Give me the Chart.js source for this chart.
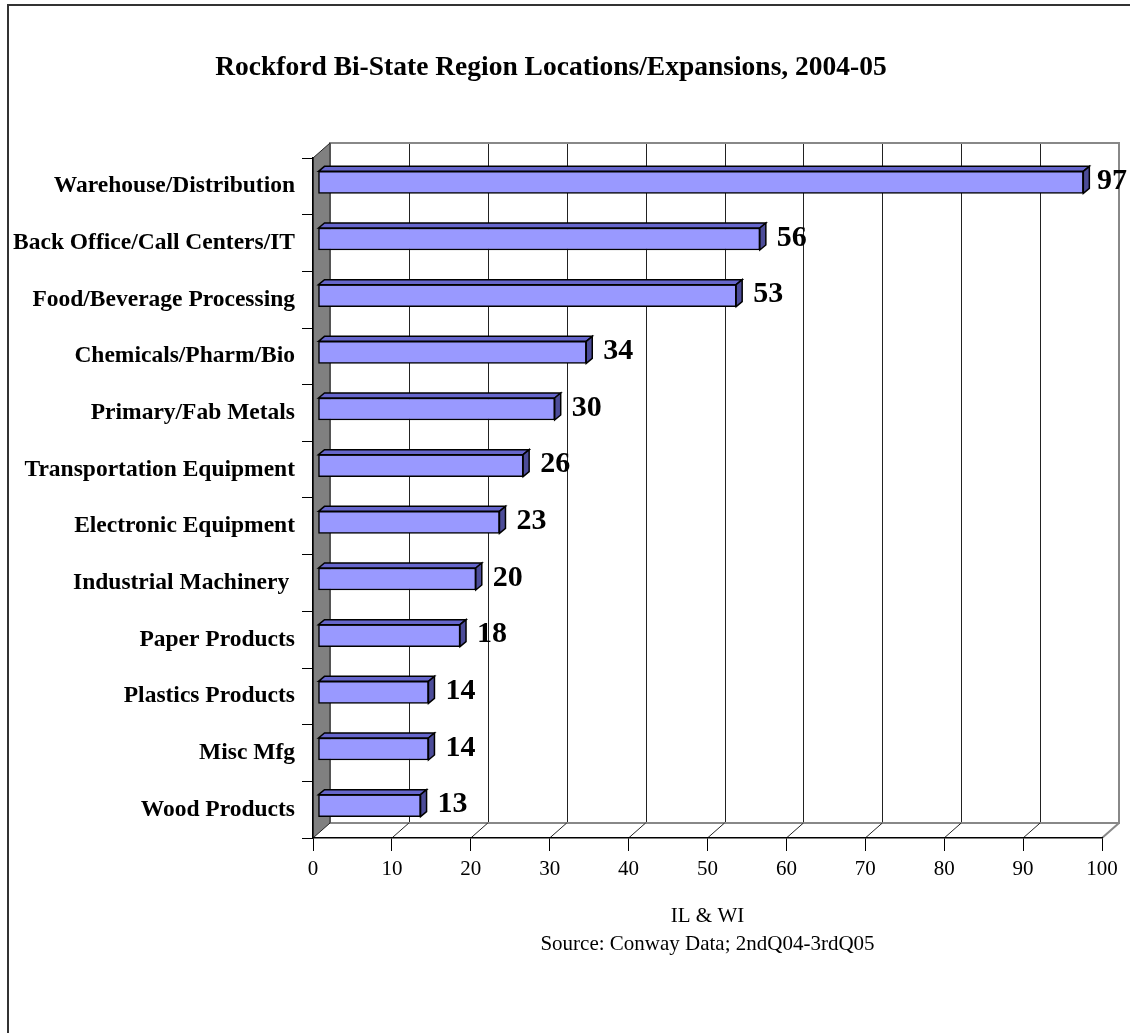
<!DOCTYPE html>
<html>
<head>
<meta charset="utf-8">
<script src="https://cdn.jsdelivr.net/npm/chart.js@4/dist/chart.umd.min.js"></script>
<style>
    html, body { margin: 0; padding: 0; background: #fff; overflow: hidden; }
    #frame { position: absolute; left: 7px; top: 4px; width: 1200px; height: 1100px; border-left: 2px solid #333; border-top: 2px solid #333; }
    #chart { position: absolute; left: 0; top: 0; }
</style>
</head>
<body>
<div id="frame"></div>
<canvas id="chart" width="1130" height="1033"></canvas>
<script>
    const categories = [
        'Warehouse/Distribution',
        'Back Office/Call Centers/IT',
        'Food/Beverage Processing',
        'Chemicals/Pharm/Bio',
        'Primary/Fab Metals',
        'Transportation Equipment',
        'Electronic Equipment',
        'Industrial Machinery ',
        'Paper Products',
        'Plastics Products',
        'Misc Mfg',
        'Wood Products'
    ];
    const counts = [97, 56, 53, 34, 30, 26, 23, 20, 18, 14, 14, 13];
    const xTicks = [0, 10, 20, 30, 40, 50, 60, 70, 80, 90, 100];

    const serif = "'Liberation Serif', 'Times New Roman', serif";
    const wallDX = 17, wallDY = -15;   // back wall offset
    const barDX = 5, barDY = -4;       // bar front face offset
    const depthX = 6, depthY = -5;     // bar depth

    const walls3d = {
        id: 'walls3d',
        beforeDraw(chart) {
            const ctx = chart.ctx;
            const a = chart.chartArea;
            const xs = chart.scales.x;
            ctx.save();
            // back wall
            ctx.fillStyle = '#fff';
            ctx.fillRect(a.left + wallDX, a.top + wallDY, a.right - a.left, a.bottom - a.top);
            ctx.strokeStyle = '#222';
            ctx.lineWidth = 1;
            xTicks.slice(1, -1).forEach(v => {
                const px = Math.round(xs.getPixelForValue(v) + wallDX) + 0.5;
                ctx.beginPath();
                ctx.moveTo(px, a.top + wallDY);
                ctx.lineTo(px, a.bottom + wallDY);
                ctx.stroke();
            });
            ctx.strokeStyle = '#888';
            ctx.lineWidth = 2;
            ctx.strokeRect(a.left + wallDX, a.top + wallDY, a.right - a.left, a.bottom - a.top);
            // floor diagonals
            ctx.lineWidth = 1;
            ctx.strokeStyle = '#222';
            xTicks.slice(1, -1).forEach(v => {
                const px = xs.getPixelForValue(v);
                ctx.beginPath();
                ctx.moveTo(px, a.bottom);
                ctx.lineTo(px + wallDX, a.bottom + wallDY);
                ctx.stroke();
            });
            ctx.strokeStyle = '#888';
            ctx.lineWidth = 2;
            ctx.beginPath();
            ctx.moveTo(a.right, a.bottom);
            ctx.lineTo(a.right + wallDX, a.bottom + wallDY);
            ctx.stroke();
            // left wall
            ctx.fillStyle = '#808080';
            ctx.strokeStyle = '#222';
            ctx.lineWidth = 1;
            ctx.beginPath();
            ctx.moveTo(a.left, a.top);
            ctx.lineTo(a.left + wallDX, a.top + wallDY);
            ctx.lineTo(a.left + wallDX, a.bottom + wallDY);
            ctx.lineTo(a.left, a.bottom);
            ctx.closePath();
            ctx.fill();
            ctx.stroke();
            ctx.restore();
        },
        beforeDatasetsDraw(chart) {
            chart.ctx.save();
            chart.ctx.translate(barDX, barDY);
        },
        afterDatasetsDraw(chart) {
            const ctx = chart.ctx;
            const meta = chart.getDatasetMeta(0);
            ctx.lineWidth = 1.5;
            ctx.strokeStyle = '#000';
            ctx.lineJoin = 'miter';
            meta.data.forEach((bar, i) => {
                const p = bar.getProps(['x', 'y', 'base', 'height'], true);
                const top = p.y - p.height / 2;
                const bottom = p.y + p.height / 2;
                ctx.fillStyle = '#6666cc';
                ctx.beginPath();
                ctx.moveTo(p.base, top);
                ctx.lineTo(p.base + depthX, top + depthY);
                ctx.lineTo(p.x + depthX, top + depthY);
                ctx.lineTo(p.x, top);
                ctx.closePath();
                ctx.fill();
                ctx.stroke();
                ctx.fillStyle = '#4c4c99';
                ctx.beginPath();
                ctx.moveTo(p.x, top);
                ctx.lineTo(p.x + depthX, top + depthY);
                ctx.lineTo(p.x + depthX, bottom + depthY);
                ctx.lineTo(p.x, bottom);
                ctx.closePath();
                ctx.fill();
                ctx.stroke();
                // value label
                const txt = String(counts[i]);
                ctx.fillStyle = '#000';
                ctx.font = 'bold 30px ' + serif;
                ctx.textAlign = 'left';
                ctx.textBaseline = 'middle';
                const w = ctx.measureText(txt).width;
                const lx = Math.min(p.x + 17, chart.width - barDX - 3 - w);
                ctx.fillText(txt, lx, p.y - 1);
            });
            ctx.restore();
        }
    };

    new Chart(document.getElementById('chart'), {
        type: 'bar',
        data: {
            labels: categories,
            datasets: [{
                data: counts,
                backgroundColor: '#9999ff',
                borderColor: '#000',
                borderWidth: 1.5,
                borderSkipped: false,
                barThickness: 22,
                clip: false
            }]
        },
        options: {
            indexAxis: 'y',
            responsive: false,
            animation: false,
            layout: { padding: { left: 0, right: 28, top: 0, bottom: 0 } },
            plugins: {
                legend: { display: false },
                tooltip: { enabled: false },
                title: {
                    display: true,
                    text: 'Rockford Bi-State Region Locations/Expansions, 2004-05',
                    color: '#000',
                    font: { family: serif, size: 27.5, weight: 'bold', lineHeight: 1.2 },
                    padding: { top: 51, bottom: 74 }
                }
            },
            scales: {
                x: {
                    min: 0,
                    max: 100,
                    afterFit(scale) { scale.height = 195; },
                    afterBuildTicks(scale) { scale.ticks = xTicks.map(v => ({ value: v })); },
                    grid: { drawOnChartArea: false, drawTicks: true, tickLength: 13, color: '#000', lineWidth: 1 },
                    border: { display: true, color: '#000', width: 1.5 },
                    ticks: { color: '#000', font: { family: serif, size: 21 }, padding: 6, maxRotation: 0 },
                    title: {
                        display: true,
                        text: ['IL & WI', 'Source: Conway Data; 2ndQ04-3rdQ05'],
                        color: '#000',
                        font: { family: serif, size: 21, lineHeight: 1.35 },
                        padding: { top: 0, bottom: 74 }
                    }
                },
                y: {
                    afterFit(scale) { scale.width = 313; },
                    grid: { offset: true, drawOnChartArea: false, drawTicks: true, tickLength: 11, color: '#000', lineWidth: 1 },
                    border: { display: true, color: '#000', width: 1.5 },
                    ticks: { color: '#000', font: { family: serif, size: 23.5, weight: 'bold' }, padding: 7 }
                }
            }
        },
        plugins: [walls3d]
    });
</script>
</body>
</html>
